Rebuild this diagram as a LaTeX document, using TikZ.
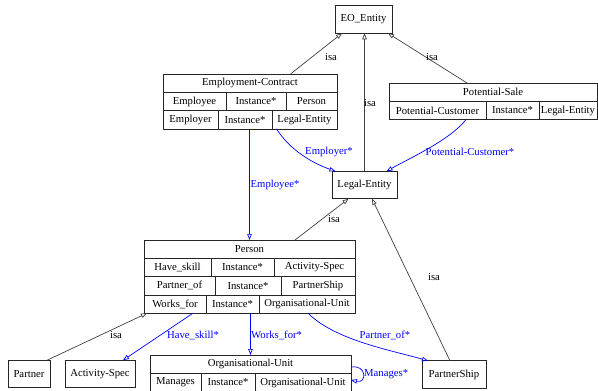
\documentclass[tikz,border=0pt]{standalone}
\usepackage{fontspec}
\setmainfont{Liberation Serif}
\usetikzlibrary{positioning,arrows.meta}

\begin{document}
\begin{tikzpicture}[
  x=1pt, y=-1pt,
  every node/.style={font=\fontsize{10.7}{12}\selectfont},
  box/.style={draw=black!85, line width=0.8pt, inner sep=0pt, outer sep=0pt, minimum height=27.5},
  cell/.style={draw=black!85, line width=0.8pt, inner sep=0pt, outer sep=0pt, minimum height=18.3},
  isa/.style={draw=black!75, line width=0.7pt, -{Triangle[open,length=6pt,width=4.5pt]}},
  rel/.style={draw=blue, line width=0.7pt, -{Triangle[open,length=6pt,width=4.5pt]}},
  lbl/.style={inner sep=0pt},
  rlbl/.style={inner sep=0pt, text=blue}
  ]
  \useasboundingbox (0,0) rectangle (598,391);

  % plain entities
  \node[box, minimum width=57] (eo) at (363.5,19.5) {EO\_Entity};
  \node[box, minimum width=65] (le) at (364.5,185) {Legal-Entity};
  \node[box, minimum width=42] (partner) at (29,374) {Partner};
  \node[box, minimum width=70] (as) at (100,374) {Activity-Spec};
  \node[box, minimum width=64] (pship) at (454,374.5) {PartnerShip};

  % Employment-Contract record
  \node[cell, minimum width=174, anchor=north west] (ec) at (163,74) {Employment-Contract};
  \node[cell, minimum width=63, below=0pt of ec.south west, anchor=north west] (ec-a1) {Employee};
  \node[cell, minimum width=60, right=0pt of ec-a1] (ec-a2) {Instance*};
  \node[cell, minimum width=51, right=0pt of ec-a2] (ec-a3) {Person};
  \node[cell, minimum width=55, below=0pt of ec-a1.south west, anchor=north west] (ec-b1) {Employer};
  \node[cell, minimum width=54, right=0pt of ec-b1] (ec-b2) {Instance*};
  \node[cell, minimum width=65, right=0pt of ec-b2] (ec-b3) {Legal-Entity};

  % Potential-Sale record
  \node[cell, minimum width=208, anchor=north west] (psale) at (389,83) {Potential-Sale};
  \node[cell, minimum width=97, below=0pt of psale.south west, anchor=north west] (psale-a1) {Potential-Customer};
  \node[cell, minimum width=53, right=0pt of psale-a1] (psale-a2) {Instance*};
  \node[cell, minimum width=58, right=0pt of psale-a2] (psale-a3) {Legal-Entity};

  % Person record
  \node[cell, minimum width=211, anchor=north west] (p) at (144,240) {Person};
  \node[cell, minimum width=67, below=0pt of p.south west, anchor=north west] (p-a1) {Have\_skill};
  \node[cell, minimum width=63, right=0pt of p-a1] (p-a2) {Instance*};
  \node[cell, minimum width=81, right=0pt of p-a2] (p-a3) {Activity-Spec};
  \node[cell, minimum width=71, below=0pt of p-a1.south west, anchor=north west] (p-b1) {Partner\_of};
  \node[cell, minimum width=66, right=0pt of p-b1] (p-b2) {Instance*};
  \node[cell, minimum width=74, right=0pt of p-b2] (p-b3) {PartnerShip};
  \node[cell, minimum width=62, below=0pt of p-b1.south west, anchor=north west] (p-c1) {Works\_for};
  \node[cell, minimum width=53, right=0pt of p-c1] (p-c2) {Instance*};
  \node[cell, minimum width=96, right=0pt of p-c2] (p-c3) {Organisational-Unit};

  % Organisational-Unit record
  \node[cell, minimum width=201, anchor=north west] (ou) at (150,355) {Organisational-Unit};
  \node[cell, minimum width=51, below=0pt of ou.south west, anchor=north west] (ou-a1) {Manages};
  \node[cell, minimum width=54, right=0pt of ou-a1] (ou-a2) {Instance*};
  \node[cell, minimum width=96, right=0pt of ou-a2] (ou-a3) {Organisational-Unit};

  % isa links
  \draw[isa] ([xshift=40.5]ec.north) -- ([xshift=-21.5]eo.south);
  \node[lbl] (isa1) at (331,57) {isa};
  \draw[isa] (le.north) -- (le.north |- eo.south);
  \node[lbl] (isa2) at (370,103) {isa};
  \draw[isa] ([xshift=-26]psale.north) -- ([xshift=24.5]eo.south);
  \node[lbl] (isa3) at (432,57) {isa};
  \draw[isa] ([xshift=45.5]p.north) -- ([xshift=-16]le.south);
  \node[lbl] (isa4) at (334,219) {isa};
  \draw[isa] ([xshift=-4]pship.north) -- ([xshift=7.5]le.south);
  \node[lbl] (isa5) at (434,277) {isa};
  \draw[isa] ([xshift=18]partner.north) -- ([xshift=3]p-c1.south west);
  \node[lbl] (isa6) at (116,335) {isa};

  % slot links
  \draw[rel] ([xshift=-28]ec-b3.south) .. controls (290,150) and (312,163) .. ([xshift=-29]le.north);
  \node[rlbl] (employer) at (329,152) {Employer*};
  \draw[rel] (p.north |- ec-b2.south) -- (p.north);
  \node[rlbl, anchor=west] (employee) at (250.5,185) {Employee*};
  \draw[rel] ([xshift=28.5]psale-a1.south) .. controls (450,140) and (410,158) .. ([xshift=22]le.north);
  \node[rlbl] (customer) at (470,152) {Potential-Customer*};
  \draw[rel] ([xshift=18]p-c1.south) -- ([xshift=23]as.north);
  \node[rlbl] (skill) at (193,335) {Have\_skill*};
  \draw[rel] (p-c2.south -| ou.north) -- (ou.north);
  \node[rlbl, anchor=west] (works) at (251,335) {Works\_for*};
  \draw[rel] ([xshift=1]p-c3.south) .. controls (335,340) and (390,350) .. ([xshift=-26]pship.north);
  \node[rlbl] (partnerof) at (385,335) {Partner\_of*};
  \draw[rel] ([yshift=-3]ou.east) .. controls (367,364) and (367,384) .. ([yshift=2.5]ou-a3.east);
  \node[rlbl, anchor=west] (manages) at (364,374) {Manages*};
\end{tikzpicture}
\end{document}
